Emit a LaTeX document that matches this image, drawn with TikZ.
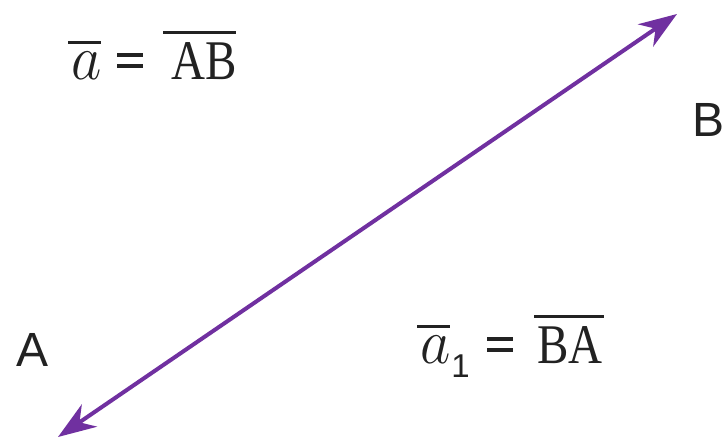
\RequirePackage{fix-cm}
\documentclass[tikz,border=0pt]{standalone}
\usepackage{graphicx}
\usepackage{fontspec}
\newfontfamily\sansf{Liberation Sans}
\newfontfamily\serf[FakeStretch=0.84]{Liberation Serif}
\usetikzlibrary{arrows.meta}
\definecolor{vpurple}{HTML}{7030A0}
\definecolor{txt}{HTML}{222222}
\newcommand\ovl[2]{\vbox{\hrule height 3pt\kern #1\hbox{#2}}}
\newcommand\eqs{\raisebox{12pt}{\vbox{\hrule height 4pt width 26pt\kern 7pt\hrule height 4pt width 26pt}}}
\newcommand\ita{\scalebox{0.92}[1]{\fontsize{64}{64}\selectfont$a$}}
\newcommand\subone{\raisebox{-14pt}{\sansf\fontsize{33}{33}\selectfont 1}}
\tikzset{
  lbl/.style={text=txt, inner sep=0pt, font=\sansf\fontsize{48}{52}\selectfont},
  frm/.style={text=txt, inner sep=0pt, font=\fontsize{56}{60}\selectfont, anchor=base west},
  vec/.style={draw=vpurple, line width=4pt,
    {Stealth[length=38pt,width=27pt,inset=12pt]}-{Stealth[length=38pt,width=27pt,inset=12pt]}}
}
\begin{document}
\begin{tikzpicture}[x=1pt,y=1pt]
\useasboundingbox (0,0) rectangle (726,441);
\coordinate (p) at (58,4);
\coordinate (q) at (677,427);
\draw[vec] (p) -- (q);
\node[lbl] (A) at (33,91) {A};
\node[lbl] (B) at (709,321) {B};
\node[frm] (f1) at (68,361) {\makebox[49pt][l]{\ovl{8pt}{\kern3pt\ita}}\eqs\hspace{20pt}\ovl{9pt}{\kern8pt\serf AB\kern-1pt}};
\node[frm] (f2) at (417,77) {\makebox[70pt][l]{\ovl{8pt}{\kern3pt\ita}\kern1pt\subone}\eqs\hspace{21pt}\ovl{9pt}{\kern3pt\serf BA\kern1pt}};
\end{tikzpicture}
\end{document}
